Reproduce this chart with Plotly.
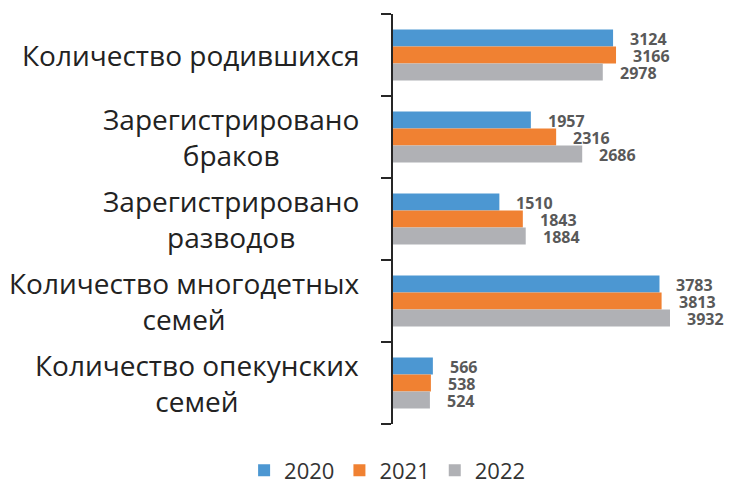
import plotly.graph_objects as go

categories = [
    "Количество родившихся",
    "Зарегистрировано<br>браков",
    "Зарегистрировано<br>разводов",
    "Количество многодетных<br>семей",
    "Количество опекунских<br>семей",
]
series_names = ["2020", "2021", "2022"]
values_2020 = [3124, 1957, 1510, 3783, 566]
values_2021 = [3166, 2316, 1843, 3813, 538]
values_2022 = [2978, 2686, 1884, 3932, 524]
colors = ["#4C97D2", "#F08132", "#B0B1B5"]

all_values = [values_2020, values_2021, values_2022]
idx = list(range(len(categories)))

fig = go.Figure()
for name, vals, col in zip(series_names, all_values, colors):
    fig.add_trace(go.Bar(
        y=idx, x=vals, name=name, orientation="h",
        marker=dict(color=col, line=dict(width=0)),
        hoverinfo="skip",
    ))

annotations = []
group_w = 0.62
bar_w = group_w / 3
for i, vals in enumerate(all_values):
    for c, v in enumerate(vals):
        yc = c - group_w / 2 + bar_w * (i + 0.5)
        annotations.append(dict(
            x=v, y=yc, xref="x", yref="y", text=str(v), showarrow=False,
            xanchor="left", yanchor="middle", xshift=15, yshift=-1,
            font=dict(family="Open Sans", size=16, color="#595959", weight="bold"),
        ))

for c, lab in enumerate(categories):
    annotations.append(dict(
        x=0, y=c, xref="paper", yref="y", text=lab, showarrow=False,
        xanchor="right", yanchor="middle", align="center", xshift=-32,
        font=dict(family="Open Sans", size=28, color="#222222"),
    ))

fig.update_layout(
    width=729, height=485,
    margin=dict(l=393, r=19, t=14, b=61),
    paper_bgcolor="white", plot_bgcolor="white",
    barmode="group", bargap=0.38, bargroupgap=0,
    xaxis=dict(range=[0, 4500], visible=False, showgrid=False, zeroline=False),
    yaxis=dict(
        autorange=False, range=[4.5, -0.5], showticklabels=False,
        showline=True, linecolor="#262626", linewidth=1.5,
        ticks="outside", ticklen=10, tickcolor="#262626", tickwidth=1.5,
        tickvals=[-0.5, 0.5, 1.5, 2.5, 3.5, 4.5],
        showgrid=False, zeroline=False,
    ),
    legend=dict(
        orientation="h", xref="container", yref="container",
        x=0.531, y=0.03, xanchor="center", yanchor="middle",
        font=dict(family="Open Sans", size=22, color="#333333"),
        itemwidth=30,
    ),
    annotations=annotations,
)

fig.write_html("out.html")
